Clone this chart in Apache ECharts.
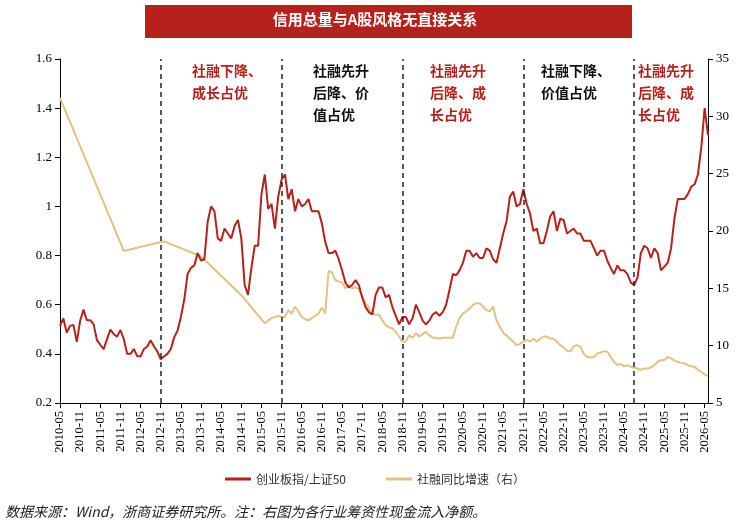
<!DOCTYPE html>
<html><head><meta charset="utf-8">
<script src="https://cdn.jsdelivr.net/npm/echarts@6/dist/echarts.min.js"></script>
<style>html,body{margin:0;padding:0;background:#fff}#c{width:750px;height:530px}</style>
</head><body><div id="c"></div>
<script>
const startYear = 2010, startMonth = 5, nMonths = 194;
const categories = [];
for (let i = 0; i < nMonths; i++) { const t = startMonth - 1 + i; const y = startYear + Math.floor(t / 12); const m = t % 12 + 1; categories.push(y + '-' + (m < 10 ? '0' + m : m)); }
const ratioValues = [0.514,0.544,0.487,0.514,0.518,0.449,0.535,0.58,0.537,0.537,0.521,0.456,0.437,0.419,0.46,0.499,0.48,0.47,0.497,0.46,0.4,0.4,0.42,0.39,0.39,0.42,0.43,0.456,0.43,0.41,0.378,0.39,0.4,0.42,0.467,0.494,0.55,0.62,0.725,0.75,0.76,0.81,0.78,0.785,0.94,1.0,0.98,0.87,0.86,0.91,0.89,0.87,0.92,0.945,0.87,0.68,0.64,0.75,0.84,0.84,1.05,1.13,0.99,1.01,0.91,1.04,1.11,1.13,1.03,1.07,0.98,1.03,1.0,1.01,1.03,0.98,0.98,0.98,0.93,0.855,0.81,0.81,0.82,0.785,0.74,0.69,0.67,0.68,0.70,0.68,0.63,0.59,0.57,0.56,0.64,0.67,0.67,0.63,0.64,0.59,0.555,0.52,0.55,0.55,0.52,0.545,0.6,0.57,0.535,0.52,0.535,0.56,0.57,0.555,0.57,0.6,0.66,0.725,0.72,0.74,0.77,0.82,0.82,0.795,0.81,0.79,0.79,0.83,0.82,0.785,0.77,0.83,0.89,0.94,1.04,1.06,1.0,1.01,1.07,1.01,0.97,0.9,0.91,0.85,0.85,0.9,0.96,0.98,0.9,0.95,0.945,0.89,0.9,0.91,0.89,0.89,0.86,0.86,0.86,0.83,0.8,0.82,0.82,0.78,0.75,0.725,0.76,0.74,0.74,0.725,0.69,0.68,0.71,0.81,0.84,0.83,0.79,0.83,0.81,0.74,0.755,0.77,0.83,0.95,1.03,1.03,1.03,1.05,1.08,1.09,1.13,1.24,1.40,1.29];
const tsfEarly = {0:31.6, 19:18.26, 31:19.1, 42:17.8, 54:14.4};
const tsfMonthly = [11.95,12.2,12.4,12.5,12.6,12.5,12.5,13.1,12.8,13.4,13.0,12.5,12.3,12.2,12.4,12.6,12.8,13.3,12.8,16.5,16.4,15.7,15.6,15.5,15.0,15.3,15.0,15.1,14.9,14.3,13.7,13.3,12.8,12.7,12.7,12.2,11.8,11.6,11.5,11.2,10.8,10.35,10.35,10.9,10.7,11.1,10.8,11.0,11.2,10.9,10.7,10.7,10.6,10.7,10.7,10.7,10.7,11.65,12.4,12.8,13.0,13.25,13.55,13.7,13.7,13.4,13.1,13.0,13.4,12.2,11.65,11.1,10.9,10.6,10.35,10.05,10.15,10.35,10.5,10.35,10.6,10.35,10.6,10.8,10.8,10.6,10.6,10.35,10.05,9.85,9.55,9.5,9.95,10.05,9.9,9.3,9.0,9.0,9.0,9.3,9.4,9.5,9.5,9.0,8.6,8.3,8.4,8.2,8.3,8.15,8.1,8.0,7.9,8.0,8.0,8.1,8.3,8.6,8.75,8.75,9.0,8.9,8.7,8.6,8.5,8.45,8.3,8.2,8.15,7.9,7.7,7.5,7.35];
const tsfMonthlyStart = 61;
const tsfValues = categories.map((c, i) => i in tsfEarly ? tsfEarly[i] : (i >= tsfMonthlyStart ? tsfMonthly[i - tsfMonthlyStart] : null));
const dividerMonths = ['2012-11','2015-11','2018-11','2021-11','2024-08'];
const leftTicks = [0.2, 1.6, 0.2];
const rightTicks = [5, 35, 5];
const notes = [
  {text:'社融下降、\n成长占优', x:192, red:true},
  {text:'社融先升\n后降、价\n值占优', x:313, red:false},
  {text:'社融先升\n后降、成\n长占优', x:430, red:true},
  {text:'社融下降、\n价值占优', x:541, red:false},
  {text:'社融先升\n后降、成\n长占优', x:638, red:true}
];
const RED = '#b5211b', GOLD = '#e0c383';
const serif = 'Liberation Serif';
const chart = echarts.init(document.getElementById('c'));
chart.setOption({
  animation:false,
  grid:{left:60, right:42, top:59, bottom:127},
  graphic:[
    {type:'rect', left:145, top:5, shape:{width:487, height:33}, style:{fill:RED}},
    {type:'text', left:'center', top:12, style:{text:'信用总量与A股风格无直接关系', fill:'#fff', font:'bold 15px "Noto Sans CJK SC"'}},
    ...notes.map(n => ({type:'text', left:n.x, top:60, style:{text:n.text, fill:n.red ? RED : '#111', font:'bold 14px "Noto Sans CJK SC"', lineHeight:22}})),
    {type:'text', left:5, top:505, style:{text:'数据来源：Wind，浙商证券研究所。注：右图为各行业筹资性现金流入净额。', fill:'#222', font:'italic 14px "Noto Sans CJK SC"'}}
  ],
  legend:{bottom:40, left:'center', itemWidth:26, itemHeight:3, itemGap:40, icon:'rect',
    textStyle:{fontFamily:'Noto Sans CJK SC', fontSize:12, color:'#333'},
    data:['创业板指/上证50','社融同比增速（右）']},
  xAxis:{type:'category', data:categories, boundaryGap:false,
    axisLine:{lineStyle:{color:'#000'}},
    axisTick:{interval:5, alignWithLabel:true, lineStyle:{color:'#000'}},
    axisLabel:{interval:5, rotate:90, fontFamily:serif, fontSize:12.5, color:'#000'}},
  yAxis:[
    {type:'value', min:leftTicks[0], max:leftTicks[1], interval:leftTicks[2], splitLine:{show:false},
      axisLine:{show:true, lineStyle:{color:'#000'}}, axisTick:{show:true},
      axisLabel:{fontFamily:serif, fontSize:13, color:'#000'}},
    {type:'value', min:rightTicks[0], max:rightTicks[1], interval:rightTicks[2], splitLine:{show:false},
      axisLine:{show:true, lineStyle:{color:'#000'}}, axisTick:{show:true},
      axisLabel:{fontFamily:serif, fontSize:13, color:'#000'}}
  ],
  series:[
    {name:'创业板指/上证50', type:'line', data:ratioValues, yAxisIndex:0, showSymbol:false, symbol:'none',
      lineStyle:{color:RED, width:2}, itemStyle:{color:RED}, z:3,
      markLine:{symbol:'none', silent:true, label:{show:false},
        lineStyle:{color:'#222', type:[5,4], width:1.5},
        data:dividerMonths.map(m => ({xAxis:m}))}},
    {name:'社融同比增速（右）', type:'line', data:tsfValues, yAxisIndex:1, connectNulls:true, showSymbol:false, symbol:'none',
      lineStyle:{color:GOLD, width:2}, itemStyle:{color:GOLD}, z:2}
  ]
});
</script></body></html>
